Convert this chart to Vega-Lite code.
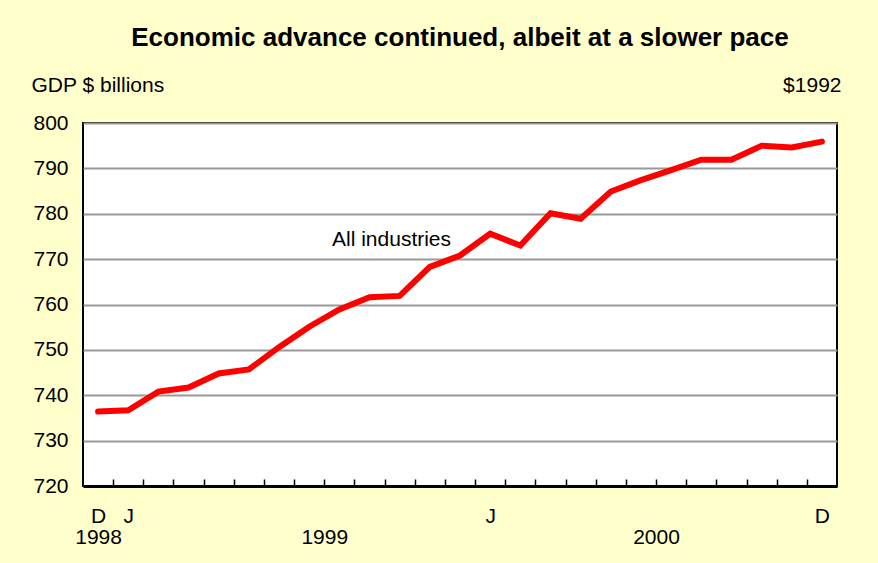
{
  "$schema": "https://vega.github.io/schema/vega-lite/v6.json",
  "width": 754,
  "height": 363,
  "autosize": {"type": "none"},
  "padding": {"left": 83, "top": 123, "right": 41, "bottom": 77},
  "background": "#FFFFCC",
  "config": {
    "view": {"stroke": "black", "strokeWidth": 2, "fill": "white"},
    "font": "Liberation Sans"
  },
  "title": {
    "text": "Economic advance continued, albeit at a slower pace",
    "fontSize": 26,
    "fontWeight": "bold",
    "anchor": "middle",
    "color": "black",
    "offset": 23
  },
  "data": {
    "values": [
      {"i": 0, "month": "1998-12", "gdp": 736.4},
      {"i": 1, "month": "1999-01", "gdp": 736.7},
      {"i": 2, "month": "1999-02", "gdp": 740.8},
      {"i": 3, "month": "1999-03", "gdp": 741.7},
      {"i": 4, "month": "1999-04", "gdp": 744.8},
      {"i": 5, "month": "1999-05", "gdp": 745.7},
      {"i": 6, "month": "1999-06", "gdp": 750.6},
      {"i": 7, "month": "1999-07", "gdp": 755.1},
      {"i": 8, "month": "1999-08", "gdp": 758.9},
      {"i": 9, "month": "1999-09", "gdp": 761.6},
      {"i": 10, "month": "1999-10", "gdp": 761.9},
      {"i": 11, "month": "1999-11", "gdp": 768.3},
      {"i": 12, "month": "1999-12", "gdp": 770.8},
      {"i": 13, "month": "2000-01", "gdp": 775.6},
      {"i": 14, "month": "2000-02", "gdp": 773.0},
      {"i": 15, "month": "2000-03", "gdp": 780.1},
      {"i": 16, "month": "2000-04", "gdp": 778.9},
      {"i": 17, "month": "2000-05", "gdp": 784.9},
      {"i": 18, "month": "2000-06", "gdp": 787.4},
      {"i": 19, "month": "2000-07", "gdp": 789.6},
      {"i": 20, "month": "2000-08", "gdp": 791.9},
      {"i": 21, "month": "2000-09", "gdp": 791.9},
      {"i": 22, "month": "2000-10", "gdp": 795.0},
      {"i": 23, "month": "2000-11", "gdp": 794.6},
      {"i": 24, "month": "2000-12", "gdp": 795.9}
    ]
  },
  "layer": [
    {
      "mark": {"type": "line", "color": "#FF0000", "strokeWidth": 6, "strokeCap": "round", "strokeJoin": "miter"},
      "encoding": {
        "x": {
          "field": "i",
          "type": "quantitative",
          "scale": {"domain": [-0.5, 24.5], "nice": false, "zero": false},
          "axis": {
            "orient": "bottom",
            "title": null,
            "values": [0.5, 1.5, 2.5, 3.5, 4.5, 5.5, 6.5, 7.5, 8.5, 9.5, 10.5, 11.5, 12.5, 13.5, 14.5, 15.5, 16.5, 17.5, 18.5, 19.5, 20.5, 21.5, 22.5, 23.5],
            "labels": false,
            "grid": false,
            "domain": true,
            "domainColor": "black",
            "domainWidth": 3,
            "ticks": true,
            "tickSize": -7,
            "tickColor": "black",
            "tickWidth": 1.5
          }
        },
        "y": {
          "field": "gdp",
          "type": "quantitative",
          "scale": {"domain": [720, 800], "nice": false, "zero": false},
          "axis": {
            "orient": "left",
            "title": "GDP $ billions",
            "values": [720, 730, 740, 750, 760, 770, 780, 790, 800],
            "grid": true,
            "gridColor": "#999999",
            "gridWidth": 2,
            "ticks": false,
            "domain": false,
            "labelFontSize": 21,
            "labelPadding": 15,
            "labelColor": "black",
            "titleAngle": 0,
            "titleAlign": "left",
            "titleBaseline": "middle",
            "titleX": -52,
            "titleY": -38,
            "titleFontSize": 21,
            "titleFontWeight": "normal",
            "titleColor": "black"
          }
        }
      }
    },
    {
      "data": {"values": [{}]},
      "mark": {"type": "text", "text": "All industries", "fontSize": 21, "color": "black", "align": "center", "baseline": "middle"},
      "encoding": {
        "x": {
          "datum": 9.73,
          "type": "quantitative",
          "axis": {
            "orient": "bottom",
            "title": null,
            "values": [0, 1, 7.5, 13, 18.5, 24],
            "labelExpr": "datum.value == 0 ? ['D','1998'] : datum.value == 1 ? ['J',''] : datum.value == 7.5 ? ['','1999'] : datum.value == 13 ? ['J',''] : datum.value == 18.5 ? ['','2000'] : ['D','']",
            "ticks": false,
            "domain": false,
            "grid": false,
            "labelOverlap": false,
            "labelFlush": false,
            "labelBound": false,
            "labelFontSize": 21,
            "labelLineHeight": 21.5,
            "labelPadding": 19,
            "labelColor": "black",
            "labelBaseline": "top"
          }
        },
        "y": {
          "datum": 774.2,
          "type": "quantitative",
          "axis": {
            "orient": "right",
            "title": "$1992",
            "labels": false,
            "ticks": false,
            "domain": false,
            "grid": false,
            "titleAngle": 0,
            "titleAlign": "right",
            "titleBaseline": "middle",
            "titleX": 4,
            "titleY": -38,
            "titleFontSize": 21,
            "titleFontWeight": "normal",
            "titleColor": "black"
          }
        }
      }
    }
  ],
  "resolve": {"axis": {"x": "independent", "y": "independent"}}
}
